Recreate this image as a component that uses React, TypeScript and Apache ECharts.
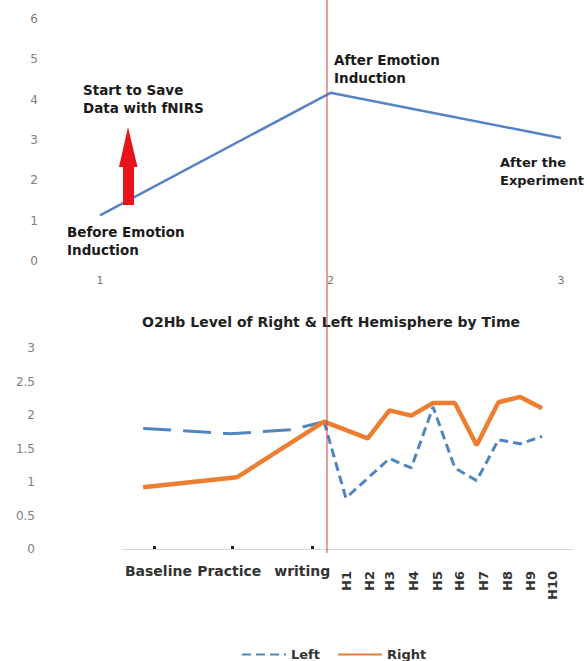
import React, { useEffect, useRef } from "react";
import * as echarts from "echarts";

// ---- Top chart data ----
const topCategories = ["1", "2", "3"];
const topValues = [1.13, 4.17, 3.05];

// ---- Bottom chart data: [time position, O2Hb level] ----
const rightValues: [number, number][] = [
  [-8.3, 0.92], [-4.0, 1.07], [0, 1.9], [2, 1.65], [3, 2.07], [4, 1.99],
  [5, 2.18], [6, 2.18], [7, 1.55], [8, 2.19], [9, 2.27], [10, 2.1],
];
const leftBeforeValues: [number, number][] = [
  [-8.3, 1.8], [-4.3, 1.72], [-1.5, 1.78], [0, 1.9],
];
const leftAfterValues: [number, number][] = [
  [0, 1.9], [1, 0.76], [3, 1.35], [4, 1.21], [5, 2.12], [6, 1.21],
  [7, 1.02], [8, 1.63], [9, 1.57], [10, 1.68],
];
const phaseLabels = ["Baseline", "Practice", "writing"];
const phaseLabelPos = [-7.6, -4.35, -1.0];
const phaseTickPos = [-7.8, -4.2, -0.55];
const hLabels = ["H1", "H2", "H3", "H4", "H5", "H6", "H7", "H8", "H9", "H10"];
const hLabelPos = [1.05, 2.1, 3.0, 4.1, 5.2, 6.2, 7.3, 8.4, 9.45, 10.5];

const FONT = "DejaVu Sans";

function labelFor(v: number, pos: number[], names: string[]) {
  let best = -1;
  let bd = Infinity;
  pos.forEach((p, i) => {
    const d = Math.abs(p - v);
    if (d < bd) {
      bd = d;
      best = i;
    }
  });
  return best >= 0 && bd < 0.05 ? names[best] : "";
}

export default function App() {
  const ref = useRef<HTMLDivElement>(null);
  useEffect(() => {
    if (!ref.current) return;
    const chart = echarts.init(ref.current, undefined, { renderer: "svg" });
    const annot = (x: number, y: number, text: string, size = 13.5) => ({
      type: "text",
      x,
      y,
      style: {
        text,
        fill: "#1a1a1a",
        font: `bold ${size}px "${FONT}"`,
        lineHeight: 18,
      },
      z: 10,
    });
    chart.setOption({
      animation: false,
      backgroundColor: "#ffffff",
      textStyle: { fontFamily: FONT },
      title: {
        text: "O2Hb Level of Right & Left Hemisphere by Time",
        left: 137,
        top: 310,
        textStyle: { fontSize: 14, fontWeight: "bold", color: "#222", fontFamily: FONT },
      },
      legend: {
        data: ["Left", "Right"],
        left: 236,
        top: 643,
        itemWidth: 44,
        itemHeight: 10,
        itemGap: 17,
        itemStyle: { opacity: 0 },
        textStyle: { fontSize: 13, fontWeight: "bold", color: "#333", fontFamily: FONT },
      },
      grid: [
        { left: 100, right: 26, top: 19, bottom: 400 },
        { left: 122, right: 14, top: 348, bottom: 112 },
      ],
      xAxis: [
        {
          gridIndex: 0,
          type: "category",
          data: topCategories,
          boundaryGap: false,
          axisLine: { show: false },
          axisTick: { show: false },
          axisLabel: { color: "#777", fontSize: 11, margin: 14 },
        },
        {
          gridIndex: 1,
          type: "value",
          position: "bottom",
          min: -9.27,
          max: 11.42,
          splitLine: { show: false },
          axisLine: { show: true, lineStyle: { color: "#d9d9d9", width: 1 } },
          axisTick: {
            show: true,
            customValues: phaseTickPos,
            inside: true,
            length: 3,
            lineStyle: { color: "#222", width: 3 },
          },
          axisLabel: {
            customValues: phaseLabelPos,
            formatter: (v: number) => labelFor(v, phaseLabelPos, phaseLabels),
            fontSize: 14,
            fontWeight: "bold",
            color: "#333",
            margin: 15,
          },
        },
        {
          gridIndex: 1,
          type: "value",
          position: "bottom",
          min: -9.27,
          max: 11.42,
          splitLine: { show: false },
          axisLine: { show: false },
          axisTick: { show: false },
          axisLabel: {
            customValues: hLabelPos,
            formatter: (v: number) => labelFor(v, hLabelPos, hLabels),
            rotate: 90,
            fontSize: 13,
            fontWeight: "bold",
            color: "#333",
            margin: 22,
          },
        },
      ],
      yAxis: [
        {
          gridIndex: 0,
          type: "value",
          min: 0,
          max: 6,
          interval: 1,
          splitLine: { show: false },
          axisLine: { show: false },
          axisTick: { show: false },
          axisLabel: { color: "#808080", fontSize: 12, margin: 62 },
        },
        {
          gridIndex: 1,
          type: "value",
          min: 0,
          max: 3,
          interval: 0.5,
          splitLine: { show: false },
          axisLine: { show: false },
          axisTick: { show: false },
          axisLabel: { color: "#808080", fontSize: 12, margin: 87 },
        },
      ],
      series: [
        {
          name: "Emotion",
          type: "line",
          xAxisIndex: 0,
          yAxisIndex: 0,
          data: topValues,
          symbol: "none",
          lineStyle: { color: "#5584c4", width: 2.5 },
          itemStyle: { color: "#5584c4" },
        },
        {
          name: "Left (before)",
          type: "line",
          xAxisIndex: 1,
          yAxisIndex: 1,
          data: leftBeforeValues,
          symbol: "none",
          lineStyle: { color: "#4f86c0", width: 3, type: [28, 12] },
          itemStyle: { color: "#4f86c0" },
        },
        {
          name: "Left",
          type: "line",
          xAxisIndex: 1,
          yAxisIndex: 1,
          data: leftAfterValues,
          symbol: "none",
          lineStyle: { color: "#4f86c0", width: 3, type: [9, 5] },
          itemStyle: { color: "#4f86c0" },
        },
        {
          name: "Right",
          type: "line",
          xAxisIndex: 1,
          yAxisIndex: 1,
          data: rightValues,
          symbol: "none",
          z: 3,
          lineStyle: { color: "#ed7d31", width: 4.5 },
          itemStyle: { color: "#ed7d31" },
        },
      ],
      graphic: [
        {
          type: "line",
          shape: { x1: 327, y1: 0, x2: 327, y2: 553 },
          style: { stroke: "#d23a3a", lineWidth: 1 },
          z: 20,
        },
        {
          type: "polygon",
          shape: {
            points: [
              [128, 127], [137.5, 167], [134, 167], [134, 205],
              [123, 205], [123, 167], [119, 167],
            ],
          },
          style: { fill: "#e8141c" },
          z: 10,
        },
        annot(83, 81, "Start to Save\nData with fNIRS"),
        annot(67, 223, "Before Emotion\nInduction"),
        annot(334, 51, "After Emotion\nInduction"),
        annot(500, 153, "After the\nExperiment", 13),
      ],
    });
    return () => chart.dispose();
  }, []);
  return (
    <div
      ref={ref}
      style={{ position: "fixed", left: 0, top: 0, width: 587, height: 661 }}
    />
  );
}
